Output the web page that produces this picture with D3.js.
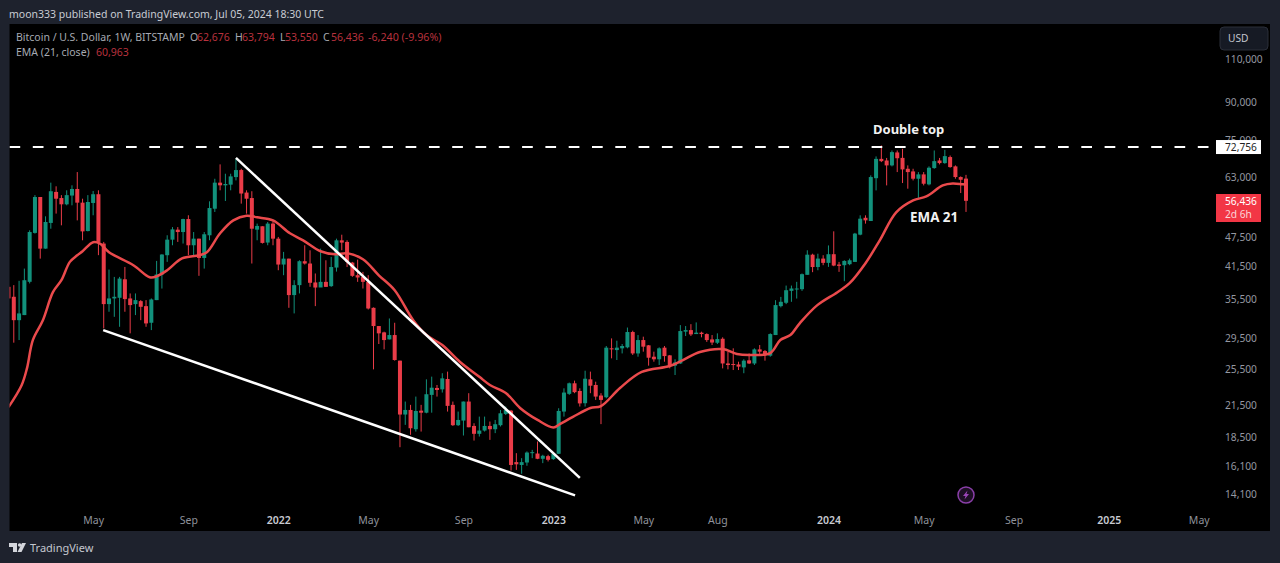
<!DOCTYPE html>
<html>
<head>
<meta charset="utf-8">
<script src="https://cdn.jsdelivr.net/npm/d3@7"></script>
<style>
	html, body { margin: 0; padding: 0; background: #1e222d; overflow: hidden; }
	text { font-family: "Noto Sans", sans-serif; }
</style>
</head>
<body>
<script>
// weekly BITSTAMP candles, one entry per week starting at the Monday in firstWeek
var firstWeek = '2021-01-11';

var opens = [37600,35870,32120,32900,38500,48500,57460,45030,50840,58860,
	57180,55510,57860,59680,55950,48930,55860,58220,46120,34650,
	35590,35700,38960,35590,34650,35140,34320,31730,35310,39850,
	43650,46980,49250,48700,51780,45750,47200,43090,47960,54370,
	61490,60720,60910,63130,65260,58680,57180,49250,50040,46340,
	50680,47200,41770,42950,36160,37900,42430,41970,38380,37480,
	38490,37720,41180,46830,46470,42160,39720,39410,38490,34050,
	31240,30320,29330,29940,26530,20570,21020,19190,20950,20750,
	22570,23320,23170,24330,21530,19560,19990,21870,19490,18780,
	19070,19490,19190,19560,20630,20950,16430,16210,16400,17140,
	17110,16690,16900,16660,17090,20860,22680,23840,22990,21700,
	24290,23650,22500,22320,28120,27890,28120,28250,30370,27450,
	29240,28520,27030,26700,28210,27200,25910,26180,30420,30650,
	30080,30280,30080,29330,28870,29420,26180,26110,26060,25700,
	26570,26180,27980,27760,27160,29940,34320,34870,36890,37180,
	37180,39790,43760,41280,42960,42100,43860,41770,41640,41840,
	42290,48100,52090,51300,62800,68800,68280,66710,70920,69120,
	65660,64840,62640,63940,60990,65870,68280,67440,69390,66400,
	63140,62676];

var highs = [38200,37900,38680,40980,49100,57970,57460,52450,61490,60440,
	57970,59310,60720,64640,57000,57970,59120,59310,46480,40790,
	39400,39400,41300,36440,36440,35310,35310,35590,42490,43860,
	47960,49850,49850,51860,52710,48700,47200,48700,56300,62630,
	67030,64140,64140,68810,65650,59310,59050,50680,50040,51070,
	51460,47580,44340,42950,38790,42620,45750,44680,40040,45030,
	42620,43300,47200,48090,46830,42290,42750,40350,39720,34110,
	31240,30420,32380,31730,26530,21870,21530,22390,21530,24290,
	24600,23650,25000,25190,21870,20860,21870,22750,19740,20370,
	20370,19900,20050,21020,21360,21020,17140,16740,17280,17410,
	18110,17010,17010,17190,21190,23280,23920,24140,23280,25300,
	25190,24020,22750,28430,29470,29150,28700,31020,30560,29940,
	29710,28560,27680,28250,28430,27250,26700,31380,31240,31520,
	31780,30420,30180,29940,30180,29620,27680,28120,26400,26700,
	27450,28120,28560,27890,30180,35300,35850,37820,37820,38490,
	40040,44680,43960,43960,43650,45710,48860,42290,42620,42960,
	48510,52700,52700,63640,69600,73300,69100,71580,71580,72150,
	66710,65660,64640,64640,66400,71580,69100,71800,69900,66710,
	63340,63794];

var lows = [35300,28880,29240,32900,38200,48340,42950,45030,49470,53130,
	50270,55250,55250,51460,46840,48850,52710,43660,30890,33420,
	32630,31130,33420,30180,32900,32120,31130,30650,35310,37290,
	42300,45750,46480,46120,43660,43660,39600,40980,46840,53540,
	59310,56390,59310,62150,55690,53130,41970,46840,46120,45750,
	45750,40660,39720,34050,33160,36440,41770,37600,34320,37590,
	37590,37590,40400,44680,41280,39410,38490,37300,33780,25460,
	28700,27980,29330,26530,17630,19590,18690,18980,18980,20690,
	20750,22390,22820,20860,19490,19490,18630,19370,18190,18540,
	18980,18250,18840,19440,20520,15790,15840,15550,16150,16740,
	16660,16350,16480,16610,17090,20370,22570,22750,21360,21360,
	22750,22040,19660,22210,26820,26610,27450,28120,27250,27030,
	27680,25910,26400,25990,26400,25580,24790,26110,29800,29800,
	30080,29620,28990,28560,28700,25580,25460,25380,25380,25000,
	26110,25990,27250,26530,27030,29940,34110,34650,35030,35570,
	36890,39790,40290,40660,41640,41310,41440,40350,38610,41640,
	42290,47960,50670,51300,59280,67760,60700,66400,64640,61380,
	59760,62140,57000,60700,60700,65660,67020,67230,65980,62640,
	58550,53550];

var closes = [35590,32120,33160,38790,48700,57460,45030,51070,59050,57000,
	55510,57970,59680,55950,48850,56120,58220,46480,34650,35590,
	35870,39090,35480,34490,35310,34210,31630,35420,39850,43790,
	46980,49320,48700,51780,45750,47200,43090,48190,54540,61490,
	60720,61100,63330,65260,58410,57000,49470,50120,46260,50680,
	47200,41770,42950,36160,37900,42430,41970,38320,37470,38490,
	37590,41280,46830,46330,42290,39600,39290,38490,33940,31240,
	30180,29240,29940,26610,20570,21020,19280,20920,20750,22640,
	23350,23100,24400,21430,19560,20050,21870,19370,18780,19070,
	19490,19190,19650,20690,21020,16210,16260,16430,17190,17220,
	16690,16930,16610,17090,20920,22820,23840,22860,21680,24360,
	23570,22390,22040,28210,27980,28210,28430,30370,27450,29240,
	28340,26900,26700,28120,27110,25910,26300,30510,30650,30030,
	30280,30080,29240,28900,29380,26180,25990,25990,25790,26530,
	26180,27980,27680,27250,30080,34490,35030,37000,37300,37300,
	39910,43760,41280,42960,42100,43860,41570,41510,42490,42620,
	48340,51870,51460,63140,68800,68060,66710,71030,69010,65460,
	64640,62640,63940,61180,65980,68070,67440,69700,66190,63140,
	62340,56436];

// EMA 21: week number since firstWeek, and its value
var emaWeeks = [0,2.5,3.5,4.6,6.5,8.4,10,11.6,13,14,16,17.3,19,23.6,26.7,28,30,32.8,36,37.5,40,42.5,45,47,50,
	53.2,55.7,59,61.7,64,67,70,73,76.5,79,82,85.3,89,91,94,96.7,100,103,104.3,106.7,110,112,
	115.6,119.7,125,127.5,130.7,135,137.7,140.5,144,145.9,147.8,149.6,152.9,156.7,159,162,
	164.7,167.8,171,173.5,176.6,178.5,180.4,181];
var emaValues = [21300,23650,25610,29240,32120,36660,38790,42300,43650,44480,46400,46100,44270,41640,39340,39500,40660,43000,43650,44270,48410,51460,52600,52200,51460,
	48410,46830,44480,43860,44060,42820,39700,37000,32120,29940,28560,26400,24580,23650,22780,21220,20050,19340,19680,20340,21220,21410,
	23320,25150,25870,26610,27630,28020,27370,27250,27500,29240,29940,31680,34480,36660,38250,42030,
	46830,53450,56550,57620,60700,61270,61000,60963];

// hand drawn wedge lines on the chart
var upperLineWeeks = [43, 108];
var upperLinePrices = [69100, 15250];
var lowerLineWeeks = [17.9, 107.1];
var lowerLinePrices = [30650, 14040];
var doubleTopLevel = 72756;

var priceTicks = [110000, 90000, 75000, 63000, 47500, 41500, 35500, 29500, 25500, 21500, 18500, 16100, 14100];
var timeTickDates = ['2021-05-03','2021-09-06','2022-01-03','2022-05-02','2022-09-05','2023-01-02','2023-05-01','2023-08-07','2024-01-01','2024-05-06','2024-09-02','2025-01-06','2025-05-05'];
var timeTickLabels = ['May','Sep','2022','May','Sep','2023','May','Aug','2024','May','Sep','2025','May'];

var WEEK = 7 * 24 * 3600 * 1000;
var start = new Date(firstWeek + 'T00:00:00Z');
function weekDate(w) { return new Date(start.getTime() + w * WEEK); }

var panel = { left: 9.5, right: 1270, top: 24, bottom: 531 };

var candles = d3.range(opens.length).map(function(i) {
	return { date: weekDate(i), o: opens[i], h: highs[i], l: lows[i], c: closes[i] };
});

var x = d3.scaleUtc()
	.domain([weekDate(0), weekDate(181)])
	.range([8.5, 966]);
var y = d3.scaleLog()
	.domain([14100, 110000])
	.range([494.5, 59.5]);

var upColor = '#12917c';
var downColor = '#ea3c48';

var svg = d3.select('body').append('svg')
	.attr('width', 1280)
	.attr('height', 563)
	.style('display', 'block');

svg.append('rect')
	.attr('width', 1280)
	.attr('height', 563)
	.attr('fill', '#1e222d');
svg.append('rect')
	.attr('x', panel.left)
	.attr('y', panel.top)
	.attr('width', panel.right - panel.left)
	.attr('height', panel.bottom - panel.top)
	.attr('fill', '#000');

svg.append('clipPath')
	.attr('id', 'plot')
	.append('rect')
	.attr('x', panel.left)
	.attr('y', panel.top)
	.attr('width', 1216 - panel.left)
	.attr('height', panel.bottom - panel.top);

var plot = svg.append('g').attr('clip-path', 'url(#plot)');

// axes
var priceFormat = d3.format(',');
var yAxis = d3.axisRight(y)
	.tickValues(priceTicks)
	.tickFormat(priceFormat)
	.tickSize(0)
	.tickPadding(0);
var yAxisG = svg.append('g')
	.attr('transform', 'translate(1225,0)')
	.call(yAxis);
yAxisG.select('.domain').remove();
yAxisG.selectAll('text')
	.attr('fill', '#9598a1')
	.style('font-size', '10.2px');

var xAxis = d3.axisBottom(x)
	.tickValues(timeTickDates.map(function(d) { return new Date(d + 'T00:00:00Z'); }))
	.tickFormat(function(d, i) { return timeTickLabels[i]; })
	.tickSize(0)
	.tickPadding(0);
var xAxisG = svg.append('g')
	.attr('transform', 'translate(0,516.5)')
	.call(xAxis);
xAxisG.select('.domain').remove();
xAxisG.selectAll('text')
	.attr('fill', function(d, i) { return /^20/.test(timeTickLabels[i]) ? '#c8cbd2' : '#8f929b'; })
	.style('font-weight', function(d, i) { return /^20/.test(timeTickLabels[i]) ? 600 : 400; })
	.style('font-size', '10.5px');

// candles
var candle = plot.selectAll('.candle')
	.data(candles)
	.enter().append('g')
	.attr('class', 'candle');

candle.append('line')
	.attr('x1', function(d) { return x(d.date); })
	.attr('x2', function(d) { return x(d.date); })
	.attr('y1', function(d) { return y(d.h); })
	.attr('y2', function(d) { return y(d.l); })
	.attr('stroke', function(d) { return d.c >= d.o ? upColor : downColor; })
	.attr('stroke-width', 1);

candle.append('rect')
	.attr('x', function(d) { return x(d.date) - 2; })
	.attr('width', 4)
	.attr('y', function(d) { return y(Math.max(d.o, d.c)); })
	.attr('height', function(d) { return Math.max(1, Math.abs(y(d.o) - y(d.c))); })
	.attr('fill', function(d) { return d.c >= d.o ? upColor : downColor; });

// ema line
var emaLine = d3.line()
	.x(function(w) { return x(weekDate(w)); })
	.y(function(w, i) { return y(emaValues[i]); })
	.curve(d3.curveCatmullRom.alpha(0.5));

plot.append('path')
	.datum(emaWeeks)
	.attr('d', emaLine)
	.attr('fill', 'none')
	.attr('stroke', '#ea4a4c')
	.attr('stroke-width', 2.5);

// wedge
function drawTrend(weeks, prices) {
	plot.append('line')
		.attr('x1', x(weekDate(weeks[0])))
		.attr('y1', y(prices[0]))
		.attr('x2', x(weekDate(weeks[1])))
		.attr('y2', y(prices[1]))
		.attr('stroke', '#fff')
		.attr('stroke-width', 2.5);
}
drawTrend(upperLineWeeks, upperLinePrices);
drawTrend(lowerLineWeeks, lowerLinePrices);

// double top level
plot.append('line')
	.attr('x1', panel.left)
	.attr('x2', 1216)
	.attr('y1', y(doubleTopLevel))
	.attr('y2', y(doubleTopLevel))
	.attr('stroke', '#fff')
	.attr('stroke-width', 2)
	.attr('stroke-dasharray', '10.7 12.6');

function label(text, px, py, size, color, weight) {
	return svg.append('text')
		.attr('x', px)
		.attr('y', py)
		.attr('fill', color)
		.style('font-size', size + 'px')
		.style('font-weight', weight || 400)
		.text(text);
}

label('Double top', 873, 134, 13, '#f2f2f2', 700);
label('EMA 21', 910, 222, 13.4, '#f2f2f2', 700);

// header and legend
var legendGrey = '#a6a9b1';
var legendRed = '#b8323e';
label('moon333 published on TradingView.com, Jul 05, 2024 18:30 UTC', 9, 18, 10.5, '#c9ccd3');
label('Bitcoin / U.S. Dollar, 1W, BITSTAMP', 16, 41, 10.5, legendGrey);
label('O', 190, 41, 10.5, legendGrey);
label('62,676', 197, 41, 10.5, legendRed);
label('H', 235, 41, 10.5, legendGrey);
label('63,794', 242, 41, 10.5, legendRed);
label('L', 280, 41, 10.5, legendGrey);
label('53,550', 285, 41, 10.5, legendRed);
label('C', 323, 41, 10.5, legendGrey);
label('56,436', 331, 41, 10.5, legendRed);
label('-6,240 (-9.96%)', 368, 41, 10.7, legendRed);
label('EMA (21, close)', 16, 56, 10.5, legendGrey);
label('60,963', 96, 56, 10.5, legendRed);

// price scale extras
svg.append('rect')
	.attr('x', 1220).attr('y', 27)
	.attr('width', 48).attr('height', 23)
	.attr('rx', 4)
	.attr('fill', '#161a24')
	.attr('stroke', '#2a2e39');
label('USD', 1228, 42, 10.2, '#c3c6ce');

svg.append('rect')
	.attr('x', 1216).attr('y', y(doubleTopLevel) - 7)
	.attr('width', 45).attr('height', 14)
	.attr('fill', '#fff');
label(priceFormat(doubleTopLevel), 1225, y(doubleTopLevel) + 4, 10.2, '#222');

svg.append('rect')
	.attr('x', 1216).attr('y', 194)
	.attr('width', 45).attr('height', 28)
	.attr('fill', '#f23645');
label('56,436', 1225, 205, 10.2, '#fff');
label('2d 6h', 1225, 218, 10.2, '#fbd5d8');

// ideas marker
var marker = svg.append('g').attr('transform', 'translate(966,495)');
marker.append('circle')
	.attr('r', 8)
	.attr('fill', '#1d0f24')
	.attr('stroke', '#8a3fa8')
	.attr('stroke-width', 1.5);
marker.append('path')
	.attr('d', 'M1.5,-4.5 L-3,1 L-0.5,1 L-1.5,4.5 L3,-1 L0.5,-1 Z')
	.attr('fill', '#9b45b8');

// footer logo
var logo = svg.append('g').attr('fill', '#d4d6dc');
logo.append('path').attr('d', 'M9,543 H17 V552 H13 V547 H9 Z');
logo.append('circle').attr('cx', 19.7).attr('cy', 545).attr('r', 1.8);
logo.append('path').attr('d', 'M22,543 H26 L21.5,552 H17.5 Z');
label('TradingView', 30, 552, 11, '#c4c7cf');
</script>
</body>
</html>
